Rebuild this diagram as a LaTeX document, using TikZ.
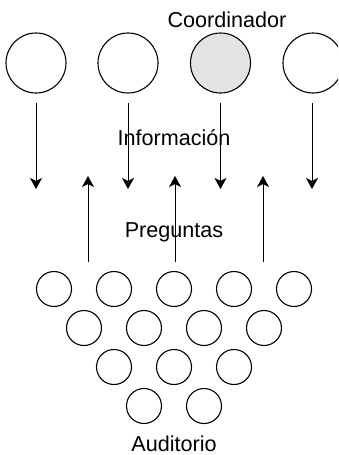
\documentclass[tikz,border=0pt]{standalone}
\usepackage{fontspec}
\setmainfont{Liberation Sans}
\usetikzlibrary{arrows.meta}
\begin{document}
\begin{tikzpicture}[x=1pt,y=-1pt,
  big/.style={circle,draw=black,line width=1.1pt,minimum size=60pt,inner sep=0pt},
  small/.style={circle,draw=black,line width=1.1pt,minimum size=35pt,inner sep=0pt},
  lbl/.style={font=\fontsize{21.6}{25}\selectfont,inner sep=0pt},
  arr/.style={draw=black,line width=0.8pt,-{Stealth[length=11pt,width=12pt,inset=3pt]}}
]
\useasboundingbox (0,0) rectangle (338,455);
\clip (0,0) rectangle (338,455);
% top row
\node[big] (c1) at (36,63) {};
\node[big] (c2) at (128,63) {};
\node[big,fill=black!11] (c3) at (220.5,63) {};
\node[big] (c4) at (313,63) {};
\node[lbl] (coord) at (227,20) {Coordinador};
% arrows down
\foreach \i/\x in {1/36,2/128,3/220.5,4/312} {
  \coordinate (ds\i) at (\x,103);
  \coordinate (de\i) at (\x,189);
  \draw[arr] (ds\i) -- (de\i);
}
% arrows up
\foreach \i/\x in {1/88,2/175,3/263} {
  \coordinate (us\i) at (\x,262);
  \coordinate (ue\i) at (\x,176);
  \draw[arr] (us\i) -- (ue\i);
}
\node[lbl] (info) at (174,138) {Información};
\node[lbl] (preg) at (174,232) {Preguntas};
% audience
\foreach \i/\x in {1/54,2/114,3/174,4/234,5/294} {\node[small] (a1\i) at (\x,289) {};}
\foreach \i/\x in {1/84,2/144,3/204,4/264} {\node[small] (a2\i) at (\x,328) {};}
\foreach \i/\x in {1/114,2/174,3/234} {\node[small] (a3\i) at (\x,367) {};}
\foreach \i/\x in {1/144,2/204} {\node[small] (a4\i) at (\x,406) {};}
\node[lbl] (aud) at (174,443.5) {Auditorio};
\end{tikzpicture}
\end{document}
